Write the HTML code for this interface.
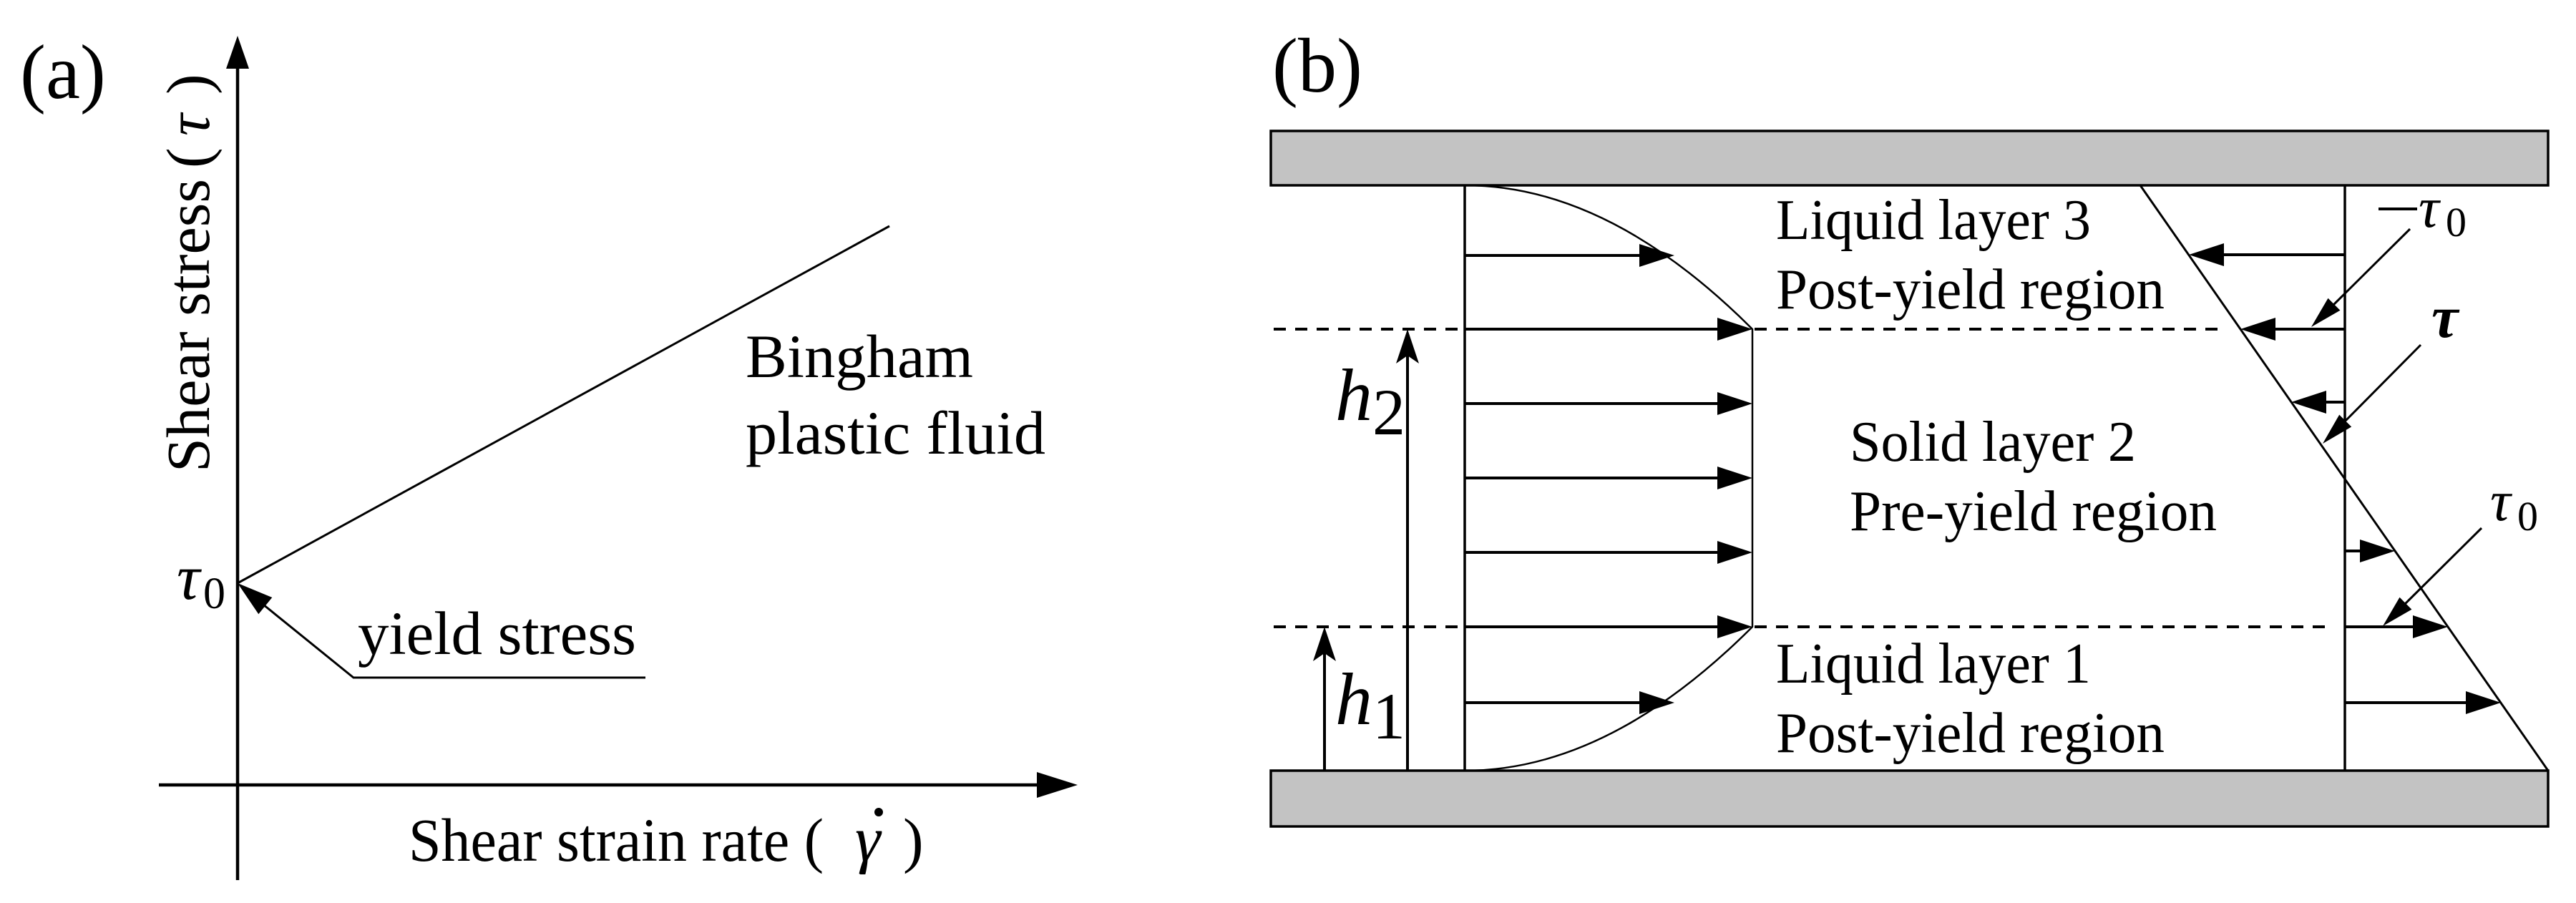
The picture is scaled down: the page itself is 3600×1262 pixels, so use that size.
<!DOCTYPE html>
<html><head><meta charset="utf-8"><style>
html,body{margin:0;padding:0;background:#fff;}
svg{display:block;}
svg text{font-family:"Liberation Serif","DejaVu Serif",serif;}
</style></head><body>
<svg width="3600" height="1262" viewBox="0 0 3600 1262" xmlns="http://www.w3.org/2000/svg">
<g style="font-family:'Liberation Serif','DejaVu Serif',serif" fill="#000">
<!-- Panel (a) -->
<text x="28" y="137" font-size="108">(a)</text>
<text x="247" y="837" font-size="90" font-style="italic">τ</text>
<text x="284" y="850" font-size="62">0</text>
<text x="1042" y="527" font-size="86" textLength="318" lengthAdjust="spacingAndGlyphs">Bingham</text>
<text x="1042" y="634" font-size="86" textLength="419" lengthAdjust="spacingAndGlyphs">plastic fluid</text>
<text x="500" y="914" font-size="86" textLength="389" lengthAdjust="spacingAndGlyphs">yield stress</text>
<text x="571" y="1203" font-size="86" textLength="580" lengthAdjust="spacingAndGlyphs">Shear strain rate (</text>
<text x="1195" y="1203" font-size="90" font-style="italic">γ</text>
<text x="1262" y="1203" font-size="86">)</text>
<g transform="translate(292,660) rotate(-90)">
<text x="0" y="0" font-size="86" textLength="410" lengthAdjust="spacingAndGlyphs">Shear stress</text>
<text x="425" y="0" font-size="86">(</text>
<text x="470" y="0" font-size="86" font-style="italic">τ</text>
<text x="528" y="0" font-size="86">)</text>
</g>
<!-- Panel (b) texts -->
<text x="1778" y="128" font-size="108">(b)</text>
<text x="1866" y="587" font-size="104" font-style="italic">h</text>
<text x="1918" y="607" font-size="92">2</text>
<text x="1866" y="1012" font-size="104" font-style="italic">h</text>
<text x="1918" y="1032" font-size="92">1</text>
<text x="2482" y="334" font-size="80" textLength="440" lengthAdjust="spacingAndGlyphs">Liquid layer 3</text>
<text x="2482" y="431" font-size="80" textLength="543" lengthAdjust="spacingAndGlyphs">Post-yield region</text>
<text x="2585" y="644" font-size="80" textLength="400" lengthAdjust="spacingAndGlyphs">Solid layer 2</text>
<text x="2585" y="741" font-size="80" textLength="513" lengthAdjust="spacingAndGlyphs">Pre-yield region</text>
<text x="2482" y="954" font-size="80" textLength="440" lengthAdjust="spacingAndGlyphs">Liquid layer 1</text>
<text x="2482" y="1051" font-size="80" textLength="543" lengthAdjust="spacingAndGlyphs">Post-yield region</text>
<text x="3380" y="317" font-size="80" font-style="italic">τ</text>
<text x="3418" y="330" font-size="58">0</text>
<text x="3398" y="471" font-size="84" font-style="italic" font-weight="bold">τ</text>
<text x="3480" y="727" font-size="80" font-style="italic">τ</text>
<text x="3518" y="741" font-size="58">0</text>
</g>

<!-- Panel (a) graphics -->
<line x1="332" y1="80" x2="332" y2="1230" stroke="#000" stroke-width="4.5"/>
<polygon points="332,50 316,96 348,96" fill="#000"/>
<line x1="222" y1="1097" x2="1460" y2="1097" stroke="#000" stroke-width="4.5"/>
<polygon points="1506,1097 1449,1079 1449,1115" fill="#000"/>
<line x1="332" y1="815" x2="1243" y2="316" stroke="#000" stroke-width="3"/>
<polyline points="902,947 494,947 368,845" fill="none" stroke="#000" stroke-width="3"/>
<polygon points="332,815 361.3,858.2 380.3,835" fill="#000"/>
<circle cx="1228" cy="1135" r="6" fill="#000"/>

<!-- Panel (b) graphics -->
<rect x="1776" y="183" width="1785" height="76" fill="#c3c3c3" stroke="#000" stroke-width="3.5"/>
<rect x="1776" y="1077" width="1785" height="78" fill="#c3c3c3" stroke="#000" stroke-width="3.5"/>

<line x1="2047" y1="259" x2="2047" y2="1077" stroke="#000" stroke-width="3.5"/>
<path d="M2047,259 Q2248,259 2449,460 L2449,876 Q2248,1077 2047,1077" fill="none" stroke="#000" stroke-width="2.5"/>
<g stroke="#000" stroke-width="4">
<line x1="2047" y1="357" x2="2300" y2="357"/>
<line x1="2047" y1="460" x2="2410" y2="460"/>
<line x1="2047" y1="564" x2="2410" y2="564"/>
<line x1="2047" y1="668" x2="2410" y2="668"/>
<line x1="2047" y1="772" x2="2410" y2="772"/>
<line x1="2047" y1="876" x2="2410" y2="876"/>
<line x1="2047" y1="982" x2="2300" y2="982"/>
</g>
<g fill="#000">
<polygon points="2340,357 2291,341 2291,373"/>
<polygon points="2449,460 2400,444 2400,476"/>
<polygon points="2449,564 2400,548 2400,580"/>
<polygon points="2449,668 2400,652 2400,684"/>
<polygon points="2449,772 2400,756 2400,788"/>
<polygon points="2449,876 2400,860 2400,892"/>
<polygon points="2340,982 2291,966 2291,998"/>
</g>
<g stroke="#000" stroke-width="4" stroke-dasharray="17 13">
<line x1="1780" y1="460" x2="2047" y2="460"/>
<line x1="2452" y1="460" x2="3110" y2="460"/>
<line x1="1780" y1="876" x2="2047" y2="876"/>
<line x1="2452" y1="876" x2="3258" y2="876"/>
</g>
<line x1="1967" y1="1077" x2="1967" y2="480" stroke="#000" stroke-width="4"/>
<polygon points="1967,460 1951,508 1967,497 1983,508" fill="#000"/>
<line x1="1851" y1="1077" x2="1851" y2="896" stroke="#000" stroke-width="4"/>
<polygon points="1851,876 1835,924 1851,913 1867,924" fill="#000"/>

<line x1="3277" y1="259" x2="3277" y2="1077" stroke="#000" stroke-width="3.5"/>
<line x1="2991" y1="259" x2="3561" y2="1077" stroke="#000" stroke-width="3"/>
<g stroke="#000" stroke-width="4">
<line x1="3277" y1="356" x2="3100" y2="356"/>
<line x1="3277" y1="460" x2="3170" y2="460"/>
<line x1="3277" y1="562" x2="3240" y2="562"/>
<line x1="3277" y1="770" x2="3310" y2="770"/>
<line x1="3277" y1="876" x2="3385" y2="876"/>
<line x1="3277" y1="982" x2="3460" y2="982"/>
</g>
<g fill="#000">
<polygon points="3059,356 3108,340 3108,372"/>
<polygon points="3131,460 3180,444 3180,476"/>
<polygon points="3202,562 3251,546 3251,578"/>
<polygon points="3347,770 3298,754 3298,786"/>
<polygon points="3421,876 3372,860 3372,892"/>
<polygon points="3495,982 3446,966 3446,998"/>
</g>
<g stroke="#000" stroke-width="3">
<line x1="3368" y1="320" x2="3255" y2="432"/>
<line x1="3383" y1="482" x2="3270" y2="596"/>
<line x1="3468" y1="738" x2="3355" y2="850"/>
</g>
<g fill="#000">
<polygon points="3230,457 3270.4,433.8 3253.5,416.8"/>
<polygon points="3246,620 3286.2,596.5 3269.2,579.6"/>
<polygon points="3330,875 3370.4,851.8 3353.5,834.8"/>
</g>
<line x1="3324" y1="292" x2="3378" y2="292" stroke="#000" stroke-width="4"/>
</svg>
</body></html>
